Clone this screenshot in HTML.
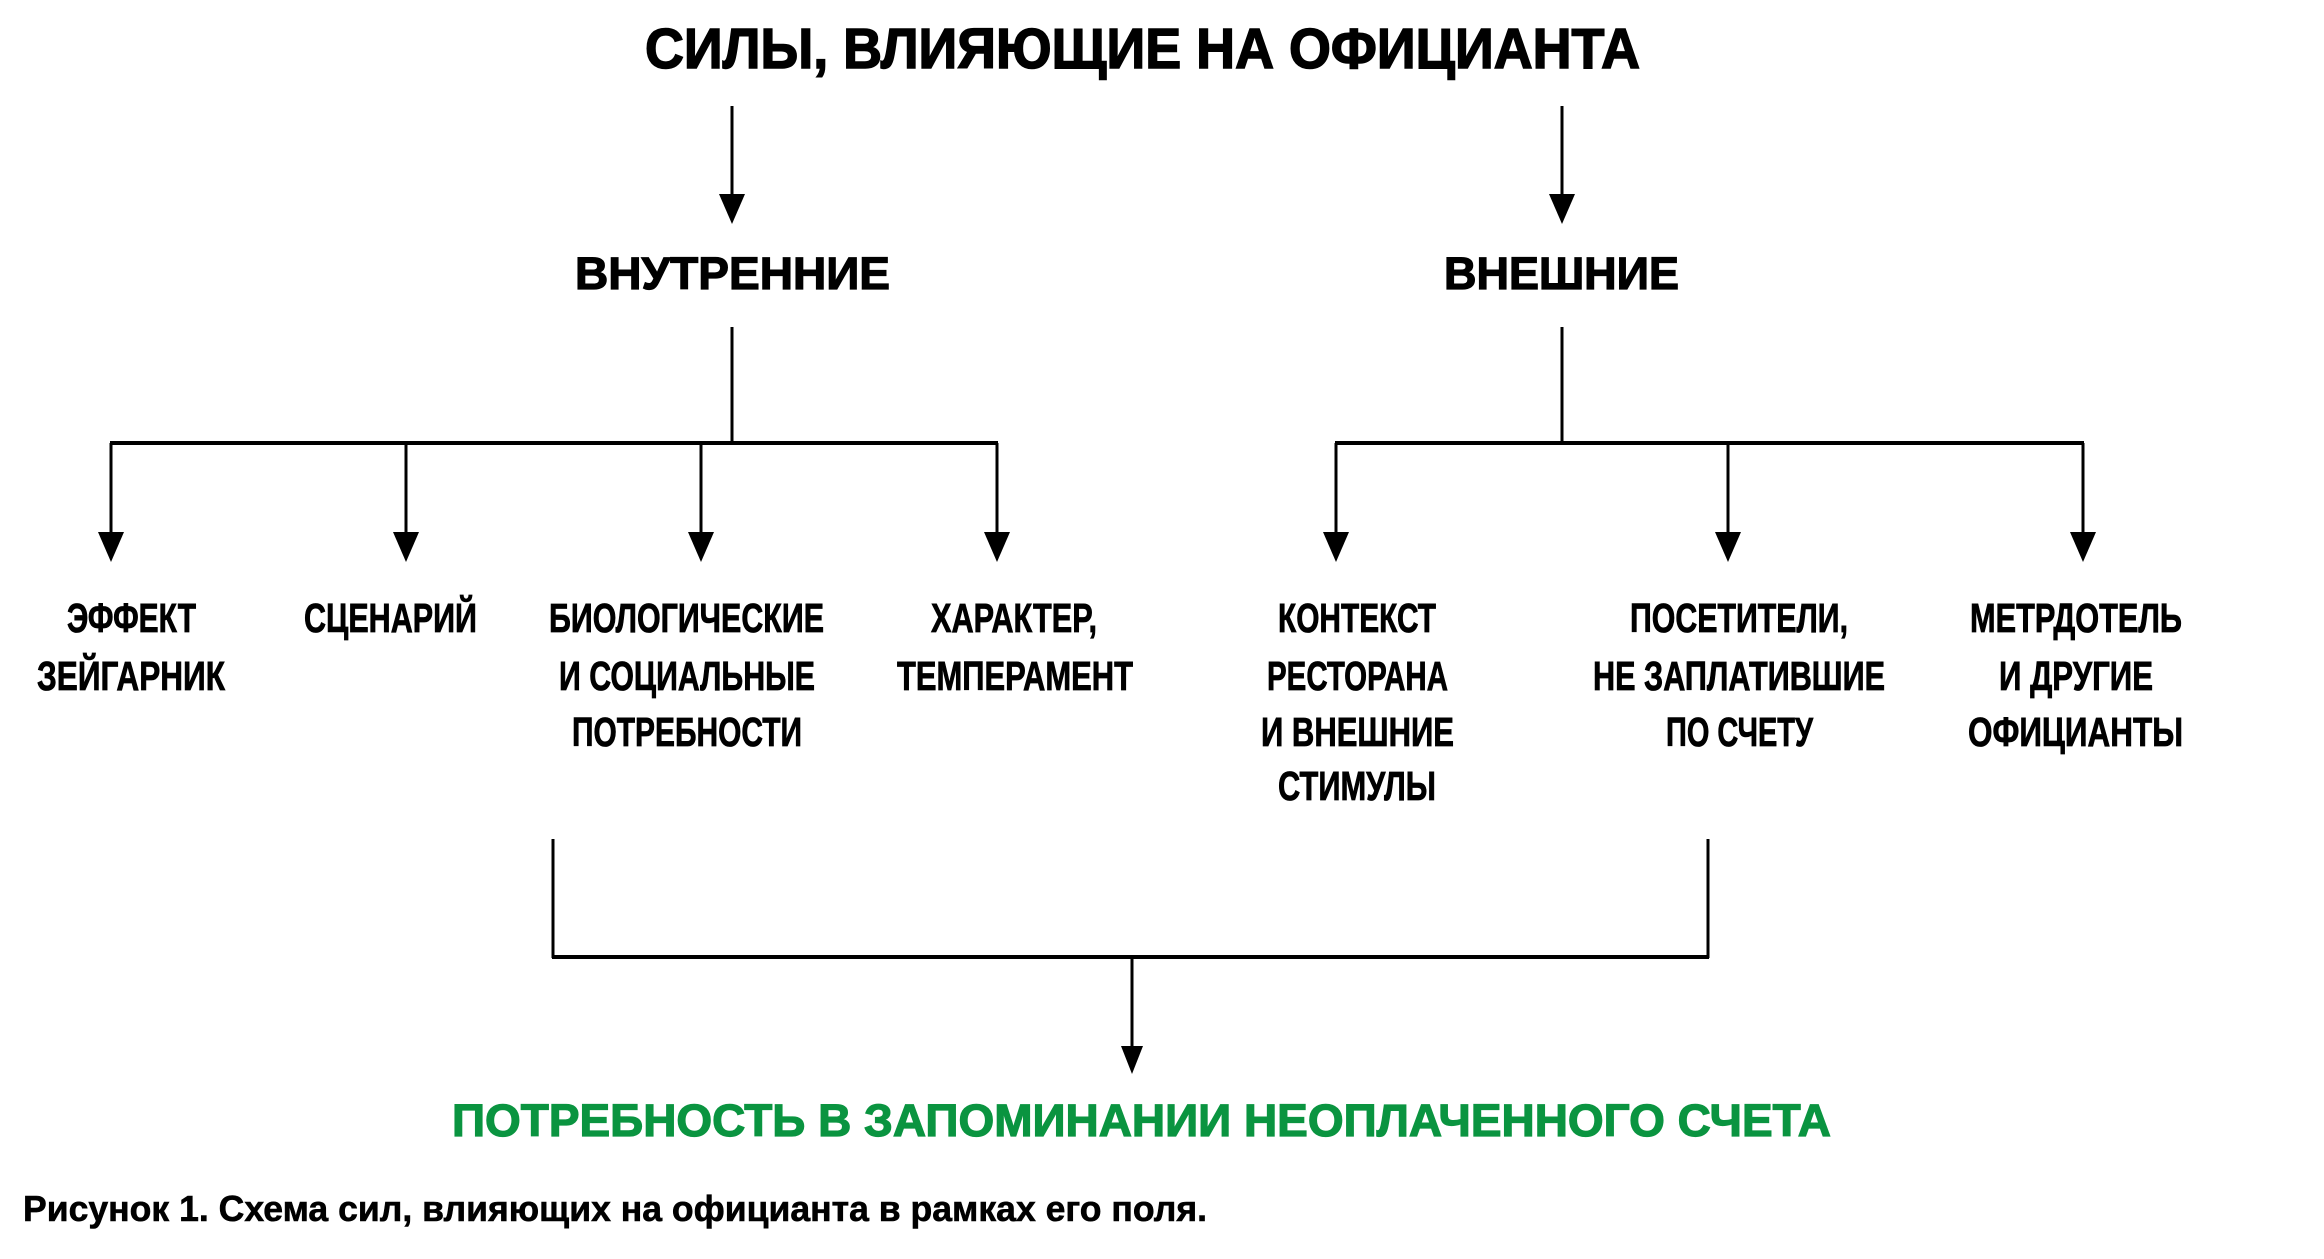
<!DOCTYPE html>
<html><head><meta charset="utf-8"><style>
html,body{margin:0;padding:0;background:#fff;}
svg{display:block;}
text{font-family:"Liberation Sans",sans-serif;font-weight:bold;}
</style></head><body>
<svg width="2324" height="1259" viewBox="0 0 2324 1259" xmlns="http://www.w3.org/2000/svg">
<g fill="#000">
<text x="645" y="68" font-size="57" stroke="#000" stroke-width="1.5" textLength="995" lengthAdjust="spacingAndGlyphs">СИЛЫ, ВЛИЯЮЩИЕ НА ОФИЦИАНТА</text>
<text x="575" y="289" font-size="45" stroke="#000" stroke-width="1.2" textLength="315" lengthAdjust="spacingAndGlyphs">ВНУТРЕННИЕ</text>
<text x="1444" y="289" font-size="45" stroke="#000" stroke-width="1.2" textLength="235" lengthAdjust="spacingAndGlyphs">ВНЕШНИЕ</text>

<g font-size="41" stroke="#000" stroke-width="0.8">
<text x="67" y="632" textLength="129" lengthAdjust="spacingAndGlyphs">ЭФФЕКТ</text>
<text x="37" y="690" textLength="188" lengthAdjust="spacingAndGlyphs">ЗЕЙГАРНИК</text>
<text x="304" y="632" textLength="173" lengthAdjust="spacingAndGlyphs">СЦЕНАРИЙ</text>
<text x="549" y="632" textLength="275" lengthAdjust="spacingAndGlyphs">БИОЛОГИЧЕСКИЕ</text>
<text x="559" y="690" textLength="256" lengthAdjust="spacingAndGlyphs">И СОЦИАЛЬНЫЕ</text>
<text x="572" y="746" textLength="230" lengthAdjust="spacingAndGlyphs">ПОТРЕБНОСТИ</text>
<text x="931" y="632" textLength="166" lengthAdjust="spacingAndGlyphs">ХАРАКТЕР,</text>
<text x="897" y="690" textLength="236" lengthAdjust="spacingAndGlyphs">ТЕМПЕРАМЕНТ</text>
<text x="1278" y="632" textLength="158" lengthAdjust="spacingAndGlyphs">КОНТЕКСТ</text>
<text x="1267" y="690" textLength="181" lengthAdjust="spacingAndGlyphs">РЕСТОРАНА</text>
<text x="1261" y="746" textLength="193" lengthAdjust="spacingAndGlyphs">И ВНЕШНИЕ</text>
<text x="1278" y="800" textLength="158" lengthAdjust="spacingAndGlyphs">СТИМУЛЫ</text>
<text x="1630" y="632" textLength="218" lengthAdjust="spacingAndGlyphs">ПОСЕТИТЕЛИ,</text>
<text x="1593" y="690" textLength="292" lengthAdjust="spacingAndGlyphs">НЕ ЗАПЛАТИВШИЕ</text>
<text x="1666" y="746" textLength="147" lengthAdjust="spacingAndGlyphs">ПО СЧЕТУ</text>
<text x="1970" y="632" textLength="212" lengthAdjust="spacingAndGlyphs">МЕТРДОТЕЛЬ</text>
<text x="1999" y="690" textLength="154" lengthAdjust="spacingAndGlyphs">И ДРУГИЕ</text>
<text x="1968" y="746" textLength="215" lengthAdjust="spacingAndGlyphs">ОФИЦИАНТЫ</text>
</g>

<text x="452" y="1136" font-size="45" fill="#0a9440" stroke="#0a9440" stroke-width="1.2" textLength="1379" lengthAdjust="spacingAndGlyphs">ПОТРЕБНОСТЬ В ЗАПОМИНАНИИ НЕОПЛАЧЕННОГО СЧЕТА</text>
<text x="23" y="1221" font-size="36" stroke="#000" stroke-width="0.6" textLength="1184" lengthAdjust="spacingAndGlyphs">Рисунок 1. Схема сил, влияющих на официанта в рамках его поля.</text>
</g>

<g stroke="#000" stroke-width="3" fill="none">
<line x1="732" y1="106" x2="732" y2="200"/>
<line x1="1562" y1="106" x2="1562" y2="200"/>
<line x1="732" y1="327" x2="732" y2="443"/>
<line x1="1562" y1="327" x2="1562" y2="443"/>
<line x1="110" y1="443" x2="998" y2="443" stroke-width="4"/>
<line x1="1335" y1="443" x2="2084" y2="443" stroke-width="4"/>
<line x1="111" y1="443" x2="111" y2="538"/>
<line x1="406" y1="443" x2="406" y2="538"/>
<line x1="701" y1="443" x2="701" y2="538"/>
<line x1="997" y1="443" x2="997" y2="538"/>
<line x1="1336" y1="443" x2="1336" y2="538"/>
<line x1="1728" y1="443" x2="1728" y2="538"/>
<line x1="2083" y1="443" x2="2083" y2="538"/>
<line x1="553" y1="839" x2="553" y2="958"/>
<line x1="1708" y1="839" x2="1708" y2="958"/>
<line x1="552" y1="957" x2="1709" y2="957" stroke-width="4"/>
<line x1="1132" y1="957" x2="1132" y2="1052"/>
</g>
<g fill="#000">
<polygon points="719,194 745,194 732,224"/>
<polygon points="1549,194 1575,194 1562,224"/>
<polygon points="98,532 124,532 111,562"/>
<polygon points="393,532 419,532 406,562"/>
<polygon points="688,532 714,532 701,562"/>
<polygon points="984,532 1010,532 997,562"/>
<polygon points="1323,532 1349,532 1336,562"/>
<polygon points="1715,532 1741,532 1728,562"/>
<polygon points="2070,532 2096,532 2083,562"/>
<polygon points="1121,1046 1143,1046 1132,1074"/>
</g>
</svg>
</body></html>
